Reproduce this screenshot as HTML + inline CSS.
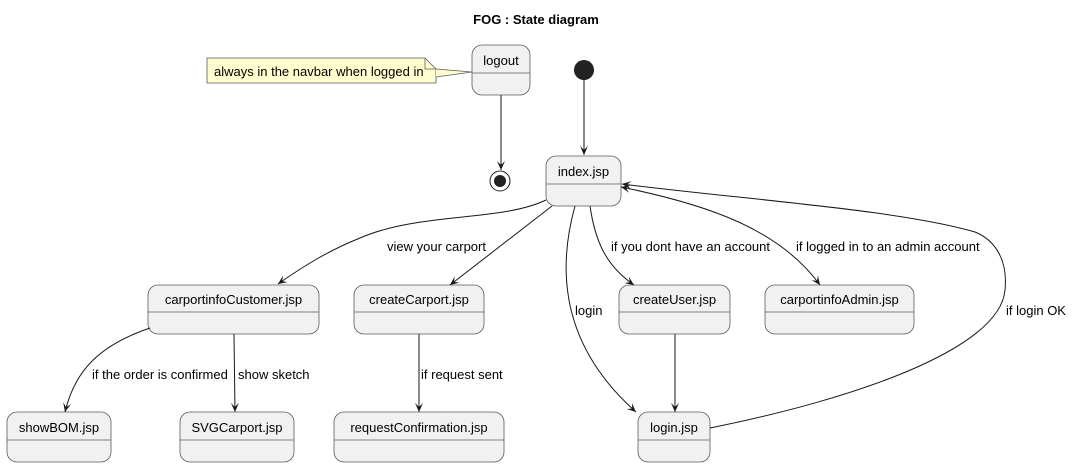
<!DOCTYPE html>
<html><head><meta charset="utf-8"><style>
html,body{margin:0;padding:0;background:#fff;width:1083px;height:467px;overflow:hidden}
text{font-family:"Liberation Sans",sans-serif;font-size:13px;fill:#000}
.n{fill:#f1f1f1;stroke:#5b5b5b;stroke-width:0.8}
.e{fill:none;stroke:#181818;stroke-width:1}
</style></head><body>
<svg width="1083" height="467" viewBox="0 0 1083 467" xmlns="http://www.w3.org/2000/svg">
<defs><marker id="a" viewBox="0 0 10 10" refX="9" refY="5" markerWidth="10" markerHeight="10" orient="auto-start-reverse" markerUnits="userSpaceOnUse"><path d="M0,1 L9,5 L0,9 L4,5 Z" fill="#181818"/></marker></defs>
<text x="536" y="24" text-anchor="middle" style="font-weight:bold;font-size:13px">FOG : State diagram</text>
<path d="M207,58 H425 L436,69 V83 H207 Z" fill="#fefece" stroke="#5b5b5b" stroke-width="0.8"/>
<path d="M425,58 V69 H436" fill="none" stroke="#5b5b5b" stroke-width="0.8"/>
<path d="M436,69 L472,72 L436,77" fill="#fefece" stroke="#5b5b5b" stroke-width="0.8"/>
<text x="214" y="76">always in the navbar when logged in</text>
<g>
<rect class="n" x="472" y="45" width="58" height="50" rx="10"/><line x1="472" y1="73" x2="530" y2="73" stroke="#5b5b5b" stroke-width="0.8"/><text x="501" y="65" text-anchor="middle">logout</text>
<rect class="n" x="546" y="156" width="75" height="50" rx="10"/><line x1="546" y1="184" x2="621" y2="184" stroke="#5b5b5b" stroke-width="0.8"/><text x="583.5" y="176" text-anchor="middle">index.jsp</text>
<rect class="n" x="148" y="285" width="171" height="49" rx="10"/><line x1="148" y1="312" x2="319" y2="312" stroke="#5b5b5b" stroke-width="0.8"/><text x="233.5" y="304" text-anchor="middle">carportinfoCustomer.jsp</text>
<rect class="n" x="354" y="285" width="130" height="49" rx="10"/><line x1="354" y1="312" x2="484" y2="312" stroke="#5b5b5b" stroke-width="0.8"/><text x="419" y="304" text-anchor="middle">createCarport.jsp</text>
<rect class="n" x="619" y="285" width="111" height="49" rx="10"/><line x1="619" y1="312" x2="730" y2="312" stroke="#5b5b5b" stroke-width="0.8"/><text x="674.5" y="304" text-anchor="middle">createUser.jsp</text>
<rect class="n" x="765" y="285" width="149" height="49" rx="10"/><line x1="765" y1="312" x2="914" y2="312" stroke="#5b5b5b" stroke-width="0.8"/><text x="839.5" y="304" text-anchor="middle">carportinfoAdmin.jsp</text>
<rect class="n" x="7" y="412" width="104" height="50" rx="10"/><line x1="7" y1="440" x2="111" y2="440" stroke="#5b5b5b" stroke-width="0.8"/><text x="59" y="432" text-anchor="middle">showBOM.jsp</text>
<rect class="n" x="180" y="412" width="114" height="50" rx="10"/><line x1="180" y1="440" x2="294" y2="440" stroke="#5b5b5b" stroke-width="0.8"/><text x="237" y="432" text-anchor="middle">SVGCarport.jsp</text>
<rect class="n" x="334" y="412" width="170" height="50" rx="10"/><line x1="334" y1="440" x2="504" y2="440" stroke="#5b5b5b" stroke-width="0.8"/><text x="419" y="432" text-anchor="middle">requestConfirmation.jsp</text>
<rect class="n" x="638" y="412" width="72" height="50" rx="10"/><line x1="638" y1="440" x2="710" y2="440" stroke="#5b5b5b" stroke-width="0.8"/><text x="674" y="432" text-anchor="middle">login.jsp</text>
</g>
<circle cx="584" cy="70" r="10" fill="#222"/>
<circle cx="500" cy="181" r="10" fill="none" stroke="#222" stroke-width="1"/><circle cx="500" cy="181" r="6" fill="#222"/>
<path class="e" d="M501,95 V170" marker-end="url(#a)"/>
<path class="e" d="M584,80 V155" marker-end="url(#a)"/>
<path class="e" d="M546,200 C500,222 420,212 360,238 C330,250 305,265 278,284" marker-end="url(#a)"/>
<text x="387" y="251">view your carport</text>
<path class="e" d="M552,206 L450,285" marker-end="url(#a)"/>
<path class="e" d="M575,206 C560,260 555,340 636,412" marker-end="url(#a)"/>
<text x="575" y="315">login</text>
<path class="e" d="M590,206 C595,240 605,265 634,285" marker-end="url(#a)"/>
<text x="611" y="251">if you dont have an account</text>
<path class="e" d="M621,187 C710,205 780,230 820,285" marker-start="url(#a)" marker-end="url(#a)"/>
<text x="796" y="251">if logged in to an admin account</text>
<path class="e" d="M710,428 C850,400 1000,350 1005,290 C1008,260 995,240 975,232 C900,210 750,200 622,184" marker-end="url(#a)"/>
<text x="1006" y="315">if login OK</text>
<path class="e" d="M150,328 C100,345 75,370 65,412" marker-end="url(#a)"/>
<text x="92" y="379">if the order is confirmed</text>
<path class="e" d="M234,334 L235,412" marker-end="url(#a)"/>
<text x="238" y="379">show sketch</text>
<path class="e" d="M419,334 V412" marker-end="url(#a)"/>
<text x="421" y="379">if request sent</text>
<path class="e" d="M675,334 V412" marker-end="url(#a)"/>
</svg>
</body></html>
